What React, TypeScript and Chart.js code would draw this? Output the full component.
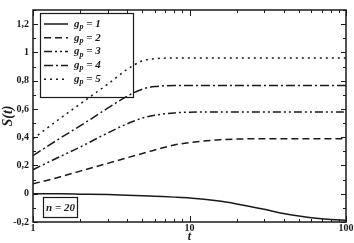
import React, { useEffect, useRef } from 'react';
import { Chart, registerables } from 'chart.js';
Chart.register(...registerables);

const T = [1, 1.5, 2, 3, 4, 5, 6, 8, 10, 15, 20, 30, 40, 50, 60, 80, 100];
const S_GP1 = [0, -0.001, -0.003, -0.006, -0.01, -0.014, -0.018, -0.024, -0.03, -0.05, -0.072, -0.11, -0.14, -0.158, -0.17, -0.183, -0.188];
const S_GP2 = [0.07, 0.12, 0.16, 0.215, 0.255, 0.285, 0.31, 0.345, 0.362, 0.381, 0.387, 0.389, 0.389, 0.389, 0.389, 0.389, 0.389];
const S_GP3 = [0.17, 0.265, 0.33, 0.43, 0.495, 0.535, 0.555, 0.572, 0.577, 0.578, 0.578, 0.578, 0.578, 0.578, 0.578, 0.578, 0.578];
const S_GP4 = [0.27, 0.395, 0.48, 0.605, 0.69, 0.74, 0.758, 0.765, 0.765, 0.765, 0.765, 0.765, 0.765, 0.765, 0.765, 0.765, 0.765];
const S_GP5 = [0.39, 0.535, 0.635, 0.775, 0.88, 0.94, 0.955, 0.96, 0.96, 0.96, 0.96, 0.96, 0.96, 0.96, 0.96, 0.96, 0.96];
const SERIES = [S_GP1, S_GP2, S_GP3, S_GP4, S_GP5];
const GP_VALUES = ['1', '2', '3', '4', '5'];
const DASHES: number[][] = [[], [7, 4], [8, 3, 2, 3, 2, 3], [9, 3, 2, 3], [2, 4]];
const Y_TICKS = [-0.2, 0, 0.2, 0.4, 0.6, 0.8, 1, 1.2];
const X_TICKS = [1, 10, 100];
const N_LABEL = 'n = 20';
const X_TITLE = 't';
const Y_TITLE = 'S(t)';

const FONT = '"Liberation Serif", "Times New Roman", serif';
const INK = '#1a1a1a';

const decor = {
  id: 'decor',
  afterDraw(chart: any) {
    const { ctx, chartArea } = chart;
    const { left, right, top, bottom } = chartArea;
    const ys = chart.scales.y;
    const xs = chart.scales.x;
    ctx.save();
    ctx.strokeStyle = INK;
    ctx.lineWidth = 1.5;
    ctx.setLineDash([]);
    ctx.strokeRect(left, top, right - left, bottom - top);
    ctx.lineWidth = 1;
    for (let k = -2; k <= 13; k++) {
      const v = k / 10;
      const py = Math.round(ys.getPixelForValue(v)) + 0.5;
      const len = k % 2 === 0 ? 5 : 3;
      ctx.beginPath();
      ctx.moveTo(left, py); ctx.lineTo(left + len, py);
      ctx.moveTo(right, py); ctx.lineTo(right - len, py);
      ctx.stroke();
    }
    for (const dec of [1, 10]) {
      for (let m = 1; m <= 10; m++) {
        const v = dec * m;
        const px = Math.round(xs.getPixelForValue(v)) + 0.5;
        const len = m === 1 || m === 10 ? 6 : 3;
        ctx.beginPath();
        ctx.moveTo(px, bottom); ctx.lineTo(px, bottom - len);
        ctx.moveTo(px, top); ctx.lineTo(px, top + len);
        ctx.stroke();
      }
    }
    const bx = left + 7, by = top + 3, bw = 93, bh = 84;
    ctx.lineWidth = 1.2;
    ctx.strokeRect(bx + 0.5, by + 0.5, bw, bh);
    chart.data.datasets.forEach((ds: any, i: number) => {
      const ry = by + 11 + i * 13.8;
      ctx.beginPath();
      ctx.lineWidth = 1.5;
      ctx.setLineDash(ds.borderDash || []);
      ctx.moveTo(bx + 4, ry); ctx.lineTo(bx + 28, ry);
      ctx.stroke();
      ctx.setLineDash([]);
      ctx.fillStyle = INK;
      ctx.textBaseline = 'middle';
      ctx.textAlign = 'left';
      let tx = bx + 34;
      ctx.font = `italic bold 11px ${FONT}`;
      ctx.fillText('g', tx, ry);
      tx += ctx.measureText('g').width;
      ctx.font = `italic bold 8px ${FONT}`;
      ctx.fillText('p', tx, ry + 3);
      tx += ctx.measureText('p').width;
      ctx.font = `italic bold 11px ${FONT}`;
      ctx.fillText(' = ' + GP_VALUES[i], tx, ry);
    });
    const nx = left + 10, ny = bottom - 25, nw = 34, nh = 20;
    ctx.lineWidth = 1.2;
    ctx.strokeRect(nx + 0.5, ny + 0.5, nw, nh);
    ctx.font = `italic bold 11px ${FONT}`;
    ctx.textAlign = 'center';
    ctx.textBaseline = 'middle';
    ctx.fillText(N_LABEL, nx + nw / 2 + 0.5, ny + nh / 2 + 1);
    ctx.restore();
  },
};

export default function App() {
  const ref = useRef<HTMLCanvasElement | null>(null);
  useEffect(() => {
    if (!ref.current) return;
    const chart = new Chart(ref.current, {
      type: 'line',
      data: {
        datasets: SERIES.map((s, i) => ({
          label: 'gp = ' + GP_VALUES[i],
          data: T.map((t, j) => ({ x: t, y: s[j] })),
          borderColor: INK,
          borderWidth: 1.5,
          borderDash: DASHES[i],
          pointRadius: 0,
          fill: false,
          cubicInterpolationMode: 'monotone',
        })),
      },
      options: {
        animation: false,
        responsive: false,
        events: [],
        layout: { padding: { top: 1, right: 8, left: 0, bottom: 0 } },
        plugins: { legend: { display: false }, tooltip: { enabled: false } },
        scales: {
          x: {
            type: 'logarithmic',
            min: 1,
            max: 100,
            grid: { display: false, drawTicks: false },
            border: { display: false },
            afterBuildTicks: (s: any) => { s.ticks = X_TICKS.map((v) => ({ value: v })); },
            afterFit: (s: any) => { s.height = 21; },
            ticks: {
              padding: 0,
              maxRotation: 0,
              color: INK,
              font: { family: FONT, weight: 'bold', size: 10 },
              callback: (v: any) => String(v),
            },
            title: {
              display: true,
              text: X_TITLE,
              color: INK,
              padding: 0,
              font: { family: FONT, weight: 'bold', style: 'italic', size: 12, lineHeight: 1 },
            },
          },
          y: {
            type: 'linear',
            min: -0.2,
            max: 1.3,
            grid: { display: false, drawTicks: false },
            border: { display: false },
            afterBuildTicks: (s: any) => { s.ticks = Y_TICKS.map((v) => ({ value: v })); },
            afterFit: (s: any) => { s.width = 33; },
            ticks: {
              padding: 4,
              color: INK,
              font: { family: FONT, weight: 'bold', size: 10 },
              callback: (v: any) => String(Math.round(Number(v) * 10) / 10).replace('.', ','),
            },
            title: {
              display: true,
              text: Y_TITLE,
              color: INK,
              padding: 0,
              font: { family: FONT, weight: 'bold', style: 'italic', size: 14 },
            },
          },
        },
      },
      plugins: [decor],
    } as any);
    return () => chart.destroy();
  }, []);
  return (
    <div style={{ position: 'fixed', left: 0, top: 0, width: 354, height: 243, background: '#fff' }}>
      <canvas ref={ref} width={354} height={243} style={{ width: 354, height: 243, display: 'block' }} />
    </div>
  );
}
